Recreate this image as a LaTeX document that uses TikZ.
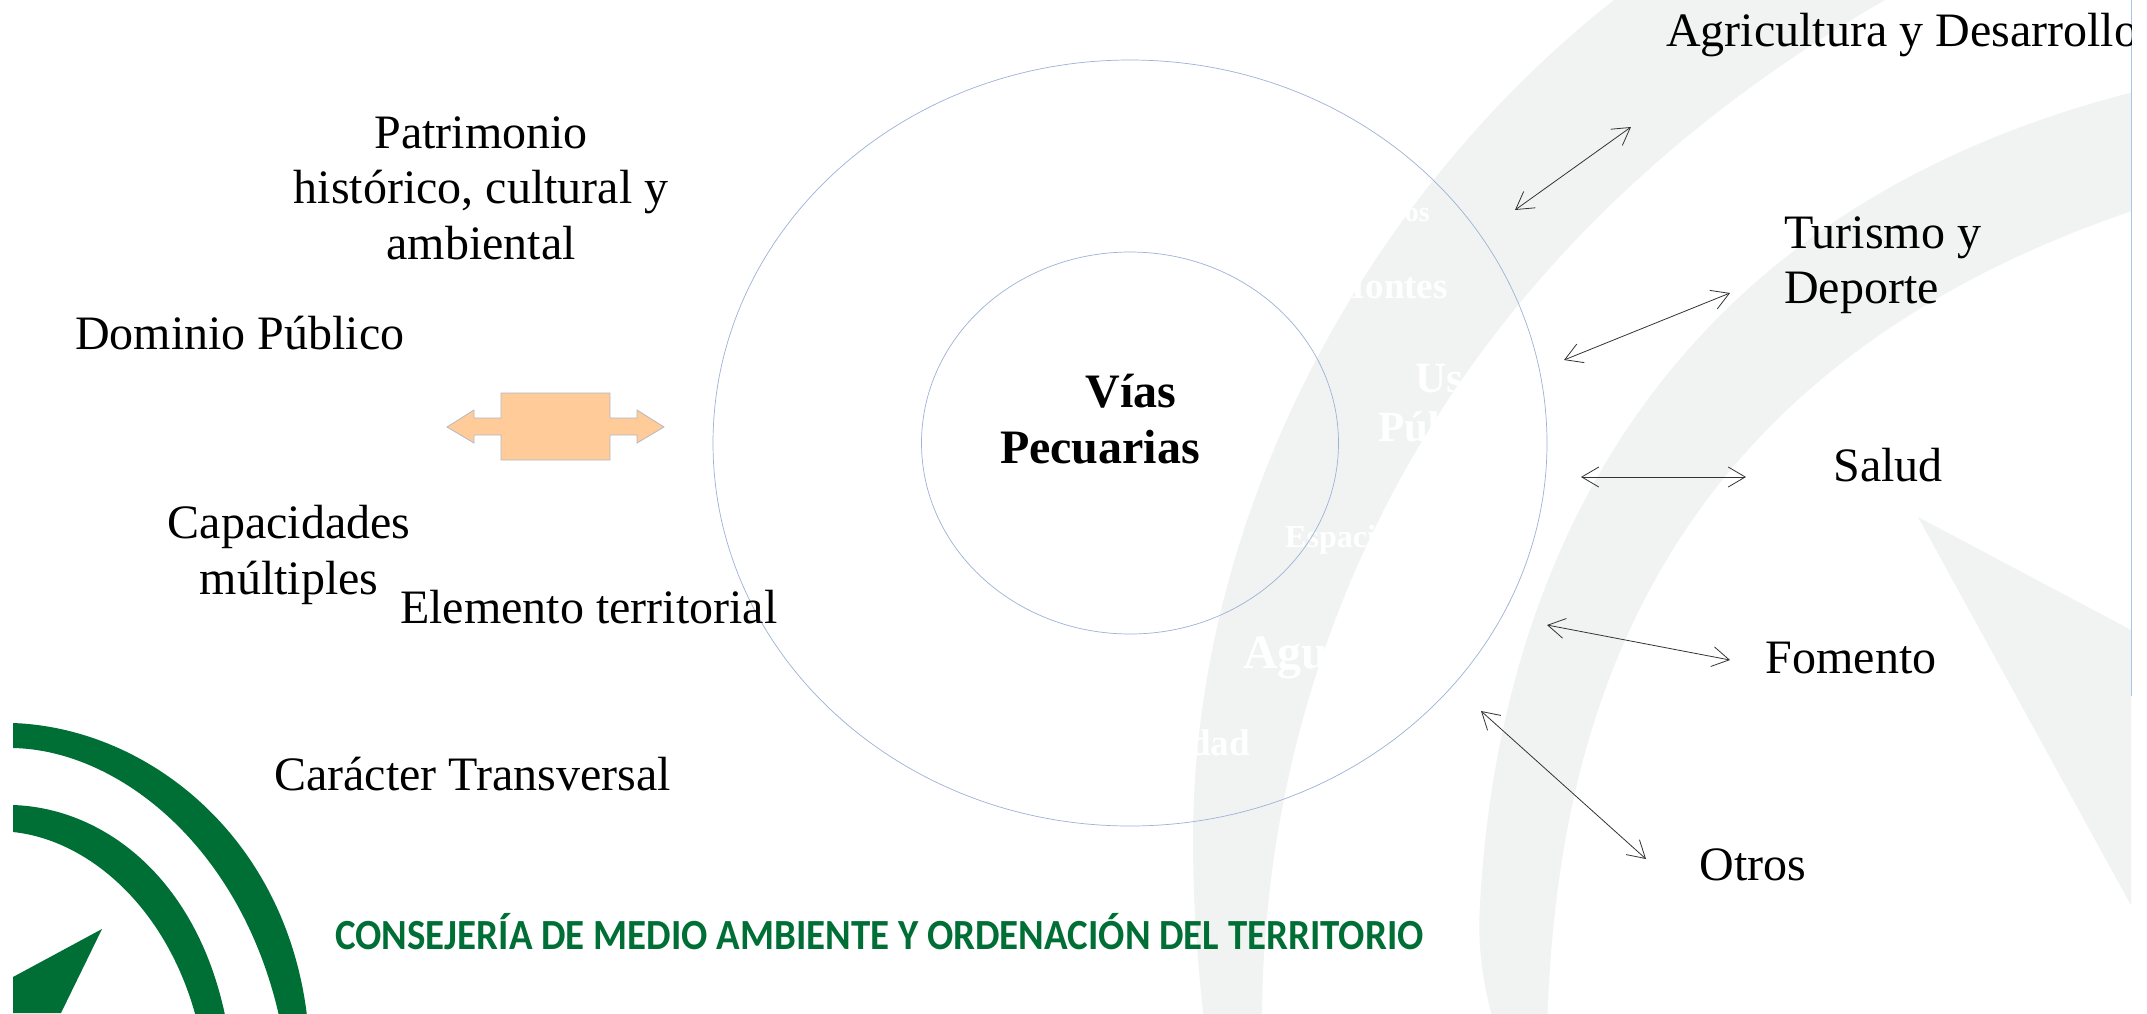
\documentclass[tikz,border=0pt]{standalone}
\usepackage{fontspec}
\setmainfont{Liberation Serif}
\newfontfamily\logofont[FakeStretch=0.905]{Carlito}
\usetikzlibrary{arrows.meta,shapes.geometric}
\definecolor{bandgray}{HTML}{F1F3F2}
\definecolor{logogreen}{HTML}{006F36}
\definecolor{ringblue}{HTML}{9DB2D6}
\definecolor{edgeblue}{HTML}{A8C4E8}
\definecolor{blockfill}{HTML}{FFCC99}
\definecolor{blockline}{HTML}{B4B8C4}
\tikzset{
  lbl/.style={font=\fontsize{48}{55.5}\selectfont,text=black,inner sep=0pt,align=center},
  lblb/.style={font=\fontsize{48}{55.5}\selectfont\bfseries,text=black,inner sep=0pt,align=center},
  ghost/.style={text=white,inner sep=0pt,font=\bfseries},
  ring/.style={draw=ringblue,line width=0.7pt},
  dbl/.style={draw=black!80,line width=0.8pt,{Straight Barb[length=17pt,width=20pt,line width=0.8pt]}-{Straight Barb[length=17pt,width=20pt,line width=0.8pt]}},
  band/.style={fill=bandgray,draw=none},
  green/.style={fill=logogreen,draw=none}
}
\begin{document}
\begin{tikzpicture}[x=1pt,y=-1pt]
\useasboundingbox (0,0) rectangle (2147,1013);
\fill[white] (0,0) rectangle (2147,1013);
% pale background emblem
\begin{scope}
\clip (0,0) rectangle (2131,1013);
\fill[band] (1205,1030) .. controls (1197,960) and (1193,900) .. (1193,840)
  .. controls (1193,520) and (1360,200) .. (1614,0)
  -- (1885,0) .. controls (1400,280) and (1260,700) .. (1262,1030) -- cycle;
\fill[band] (1496,1030) .. controls (1484,990) and (1477,950) .. (1480,904)
  .. controls (1500,540) and (1680,200) .. (2150,88)
  -- (2150,205) .. controls (1640,370) and (1555,740) .. (1547,1030) -- cycle;
\fill[band] (1918,517) -- (2150,640) -- (2150,940) -- cycle;
\end{scope}
\draw[draw=edgeblue,line width=1pt] (2131,0) -- (2131,696);
% faint white words on the emblem
\node[ghost,font=\fontsize{28}{28}\selectfont\bfseries,anchor=east] (g1) at (1430,215) {os};
\node[ghost,font=\fontsize{37}{37}\selectfont\bfseries,anchor=east] (g2) at (1448,287) {Montes};
\node[ghost,font=\fontsize{43}{43}\selectfont\bfseries,anchor=west] (g3) at (1415,379) {Us};
\node[ghost,font=\fontsize{43}{43}\selectfont\bfseries,anchor=west] (g4) at (1378,427) {Púb};
\node[ghost,font=\fontsize{32}{32}\selectfont\bfseries,anchor=west] (g5) at (1285,540) {Espaci};
\node[ghost,font=\fontsize{48}{48}\selectfont\bfseries,anchor=base west] (g6) at (1243,668) {Agu};
\node[ghost,font=\fontsize{37}{37}\selectfont\bfseries,anchor=base east] (g7) at (1250,755) {dad};
% rings
\node[ring,ellipse,minimum width=834pt,minimum height=766pt,inner sep=0pt] (outer) at (1130,443) {};
\node[ring,ellipse,minimum width=417pt,minimum height=382pt,inner sep=0pt] (inner) at (1130,443) {};
% centre label
\node[lblb] (vias) at (1131,391) {Vías};
\node[lblb] (pec) at (1100,447) {Pecuarias};
% orange block
\draw[fill=blockfill,draw=blockline,line width=0.8pt] (447,427) -- (474,410) -- (474,418) -- (501,418) -- (501,393) -- (610,393) -- (610,418) -- (637,418) -- (637,410) -- (664,427) -- (637,443) -- (637,435) -- (610,435) -- (610,460) -- (501,460) -- (501,435) -- (474,435) -- (474,443) -- cycle;
% left labels
\node[lbl] (pat) at (481,188) {Patrimonio\\histórico, cultural y\\ambiental};
\node[lbl,anchor=west] (dom) at (75,333) {Dominio Público};
\node[lbl] (cap) at (289,555) {Capacidades\\múltiples};
\node[lbl,anchor=west] (ele) at (400,607) {Elemento territorial};
\node[lbl,anchor=west] (car) at (274,774) {Carácter Transversal};
% right labels
\begin{scope}
\clip (0,0) rectangle (2131,1013);
\node[lbl,anchor=west] (agr) at (1666,35) {Agricultura y Desarrollo};
\end{scope}
\node[lbl,anchor=west,align=left] (tur) at (1784,265) {Turismo y\\Deporte};
\node[lbl] (sal) at (1888,465) {Salud};
\node[lbl] (fom) at (1851,658) {Fomento};
\node[lbl] (otr) at (1753,865) {Otros};
% arrows
\coordinate (a1s) at (1515,210); \coordinate (a1e) at (1631,127);
\coordinate (a2s) at (1564,360); \coordinate (a2e) at (1730,293);
\coordinate (a3s) at (1581,477); \coordinate (a3e) at (1746,477);
\coordinate (a4s) at (1547,625); \coordinate (a4e) at (1730,660);
\coordinate (a5s) at (1481,711); \coordinate (a5e) at (1646,859);
\draw[dbl] (a1s) -- (a1e);
\draw[dbl] (a2s) -- (a2e);
\draw[dbl] (a3s) -- (a3e);
\draw[dbl] (a4s) -- (a4e);
\draw[dbl] (a5s) -- (a5e);
% green logo
\begin{scope}
\clip (13,0) rectangle (2147,1013);
\fill[green] (13,723) .. controls (150,728) and (290,840) .. (308,1025)
  -- (281,1025) .. controls (245,850) and (120,750) .. (13,748) -- cycle;
\fill[green] (13,805) .. controls (105,808) and (200,880) .. (227,1025)
  -- (198,1025) .. controls (170,910) and (90,840) .. (13,832) -- cycle;
\fill[green] (102,929) -- (13,977) -- (13,1013) -- (61,1013) -- cycle;
\end{scope}
\node[inner sep=0pt,anchor=west,text=logogreen,font=\logofont\fontsize{43}{43}\selectfont\bfseries] (cons) at (335,932) {CONSEJERÍA DE MEDIO AMBIENTE Y ORDENACIÓN DEL TERRITORIO};
\end{tikzpicture}
\end{document}
